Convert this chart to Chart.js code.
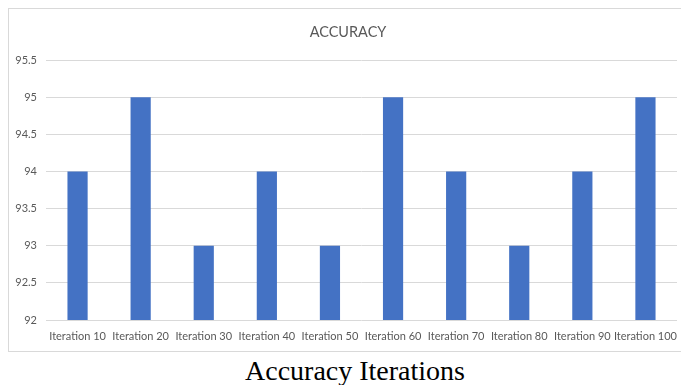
<!DOCTYPE html>
<html>
<head>
<meta charset="utf-8">
<script src="https://cdn.jsdelivr.net/npm/chart.js@4.4.1/dist/chart.umd.min.js"></script>
<style>
  html, body { margin: 0; padding: 0; background: #ffffff; }
  body { width: 681px; height: 385px; position: relative; overflow: hidden; }
  #frame {
    position: absolute; left: 8px; top: 8px; width: 690px; height: 344px;
    border: 1px solid #d9d9d9; box-sizing: border-box;
  }
  #wrap { position: absolute; left: 9px; top: 9px; width: 672px; height: 343px; }
  #caption {
    position: absolute; left: 0; width: 710px; top: 355px; text-align: center;
    font-family: "Liberation Serif", "Times New Roman", serif; font-size: 28px;
    line-height: 32px; color: #000000;
  }
</style>
</head>
<body>
<div id="frame"></div>
<div id="wrap"><canvas id="chart" width="672" height="343"></canvas></div>
<div id="caption">Accuracy Iterations</div>
<script>
const chartTitle = "ACCURACY";
const categories = ["Iteration 10", "Iteration 20", "Iteration 30", "Iteration 40", "Iteration 50",
                    "Iteration 60", "Iteration 70", "Iteration 80", "Iteration 90", "Iteration 100"];
const accuracy = [94, 95, 93, 94, 93, 95, 94, 93, 94, 95];
const yTicks = [92, 92.5, 93, 93.5, 94, 94.5, 95, 95.5];

const labelColor = "#595959";
const gridColor = "#d9d9d9";

// Chart heading, drawn slightly right of the canvas centre like the office-style layout.
const headingPlugin = {
  id: "heading",
  afterDraw(chart) {
    const ctx = chart.ctx;
    ctx.save();
    ctx.fillStyle = labelColor;
    ctx.font = "14.5px Lato";
    ctx.textAlign = "center";
    ctx.textBaseline = "middle";
    ctx.fillText(chartTitle, chart.width / 2 + 3, 23);
    ctx.restore();
  }
};

new Chart(document.getElementById("chart"), {
  type: "bar",
  data: {
    labels: categories,
    datasets: [{
      label: chartTitle,
      data: accuracy,
      backgroundColor: "#4472C4",
      borderWidth: 0,
      categoryPercentage: 0.64,
      barPercentage: 0.5
    }]
  },
  plugins: [headingPlugin],
  options: {
    responsive: false,
    animation: false,
    layout: { padding: { left: 0, right: 4, top: 51, bottom: 0 } },
    plugins: {
      legend: { display: false },
      tooltip: { enabled: false },
      title: { display: false }
    },
    scales: {
      x: {
        grid: { display: false, drawTicks: false },
        border: { display: false },
        ticks: {
          color: labelColor,
          font: { family: "Lato", size: 11 },
          maxRotation: 0,
          autoSkip: false,
          padding: 10
        },
        afterFit(scale) {
          scale.height = 32;
          scale.paddingLeft = 0;
          scale.paddingRight = 0;
        }
      },
      y: {
        min: 92,
        max: 95.5,
        grid: { color: gridColor, lineWidth: 1, drawTicks: false },
        border: { display: false },
        afterBuildTicks(scale) { scale.ticks = yTicks.map(v => ({ value: v })); },
        ticks: {
          color: labelColor,
          font: { family: "Lato", size: 11 },
          padding: 9,
          callback: v => String(v)
        },
        afterFit(scale) {
          scale.width = 37;
          scale.paddingTop = 0;
          scale.paddingBottom = 0;
        }
      }
    }
  }
});
</script>
</body>
</html>
